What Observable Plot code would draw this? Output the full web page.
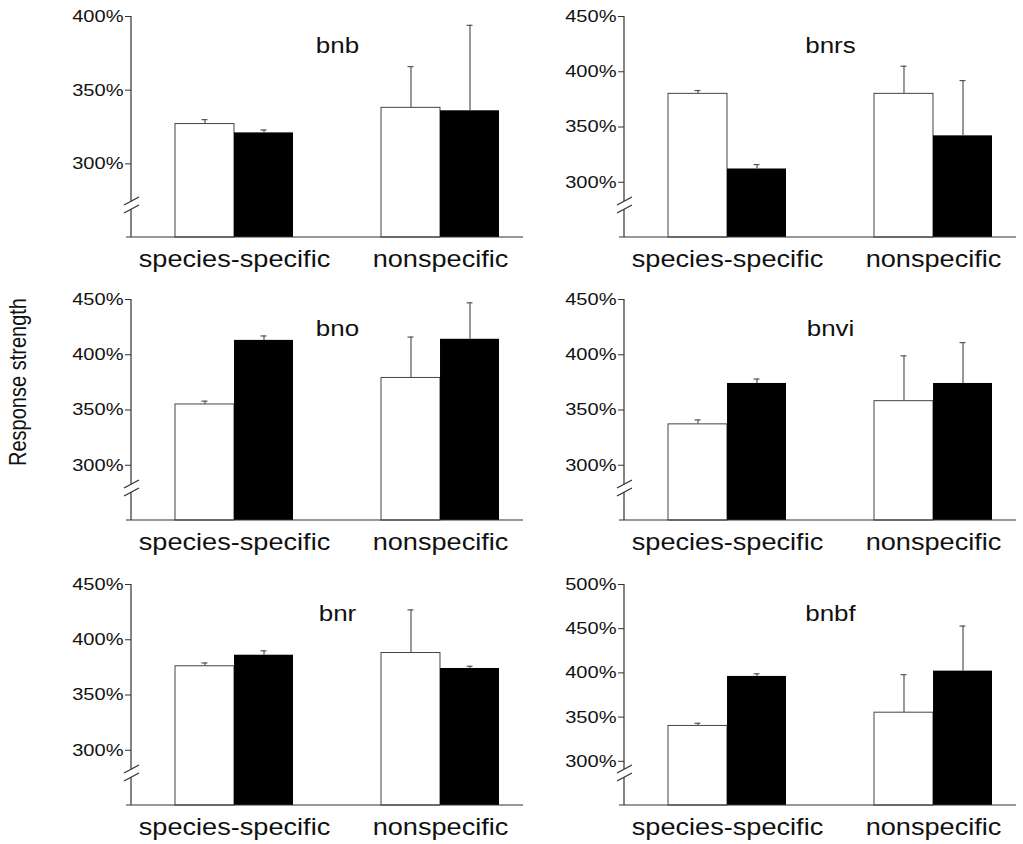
<!DOCTYPE html>
<html>
<head>
<meta charset="utf-8">
<script src="https://cdn.jsdelivr.net/npm/d3@7"></script>
<script src="https://cdn.jsdelivr.net/npm/@observablehq/plot@0.6"></script>
<style>
html, body { margin: 0; padding: 0; background: #fff; overflow: hidden; }
#wrap { position: relative; width: 1023px; height: 844px; overflow: hidden; font-family: "Liberation Sans", Arial, sans-serif; }
.panel { position: absolute; }
.panel svg { max-width: none !important; }
#ylab { position: absolute; left: 18px; top: 382px; transform: translate(-50%, -50%) rotate(-90deg) scale(1, 1.18); font-size: 20px; white-space: nowrap; color: #111; }
</style>
</head>
<body>
<div id="wrap"><div id="ylab">Response strength</div></div>
<script>
// ---- data ----
const panelNames = ["bnb", "bnrs", "bno", "bnvi", "bnr", "bnbf"];
const groups = ["species-specific", "nonspecific"];
const yTop = [400, 450, 450, 450, 450, 500];
const yBottom = 250;
const whiteMean = [[327, 338], [380, 380], [355, 379], [337, 358], [376, 388], [340, 355]];
const whiteErr  = [[330, 366], [383, 405], [358, 416], [341, 399], [379, 427], [343, 398]];
const blackMean = [[321, 336], [312, 342], [413, 414], [374, 374], [386, 374], [396, 402]];
const blackErr  = [[323, 394], [316, 392], [417, 447], [378, 411], [390, 376], [399, 453]];

// ---- layout ----
const colLeft = [7, 500];
const rowTop = [0, 283, 568];
const W = 536, H = 276, mL = 124, mR = 0, mT = 16, mB = 39;
const padInner = 0.427, padOuter = 0.2135;
const bw = d3.scaleBand().domain(groups).range([0, W - mL - mR]).paddingInner(padInner).paddingOuter(padOuter).bandwidth();
const capHalf = 3;
const ink = "#333";
const stretch = 1.18;

function decor(index, scales, values, dims) {
  const x0 = dims.marginLeft;
  const yb = dims.height - dims.marginBottom;
  const g = d3.create("svg:g").attr("stroke", ink).attr("fill", "none").attr("stroke-width", 1.2);
  const c1 = yb - 36, c2 = yb - 28;
  g.append("path").attr("d", `M${x0},${dims.marginTop}V${c1}M${x0},${c2}V${yb}M${x0 - 5},${yb}H${dims.width - dims.marginRight - 20}`);
  for (const c of [c1, c2]) g.append("path").attr("d", `M${x0 - 7},${c + 4}L${x0 + 8},${c - 4}`);
  return g.node();
}

function widenText(svg) {
  svg.querySelectorAll("text").forEach(el => {
    const x = +el.getAttribute("x") || 0;
    const y = +el.getAttribute("y") || 0;
    const t = el.getAttribute("transform") || "";
    el.setAttribute("transform", `${t} translate(${x},${y}) scale(${stretch},1) translate(${-x},${-y})`);
  });
}

const wrap = document.getElementById("wrap");
panelNames.forEach((name, i) => {
  const rows = groups.map((g, j) => ({
    group: g,
    white: whiteMean[i][j], whiteErr: whiteErr[i][j],
    black: blackMean[i][j], blackErr: blackErr[i][j]
  }));
  const chart = Plot.plot({
    width: W, height: H,
    marginLeft: mL, marginRight: mR, marginTop: mT, marginBottom: mB,
    style: { fontFamily: "'Liberation Sans', Arial, sans-serif", color: "#111", background: "transparent" },
    x: { domain: groups, paddingInner: padInner, paddingOuter: padOuter },
    y: { domain: [yBottom, yTop[i]] },
    marks: [
      Plot.barY(rows, { x: "group", y1: yBottom, y2: "white", fill: "white", stroke: "#444", strokeWidth: 1, insetRight: bw / 2 }),
      Plot.barY(rows, { x: "group", y1: yBottom, y2: "black", fill: "black", insetLeft: bw / 2 }),
      Plot.ruleX(rows, { x: "group", y1: "white", y2: "whiteErr", dx: -bw / 4, stroke: "#555", strokeWidth: 1.2 }),
      Plot.ruleX(rows, { x: "group", y1: "black", y2: "blackErr", dx: bw / 4, stroke: "#555", strokeWidth: 1.2 }),
      Plot.tickY(rows, { x: "group", y: "whiteErr", insetLeft: bw / 4 - capHalf, insetRight: 3 * bw / 4 - capHalf, stroke: "#555", strokeWidth: 1.2 }),
      Plot.tickY(rows, { x: "group", y: "blackErr", insetLeft: 3 * bw / 4 - capHalf, insetRight: bw / 4 - capHalf, stroke: "#555", strokeWidth: 1.2 }),
      Plot.axisY({ ticks: d3.range(300, yTop[i] + 1, 50), tickFormat: d => d + "%", tickSize: 6, tickPadding: 2, fontSize: 17, label: null, stroke: ink }),
      Plot.axisX({ tickSize: 0, tickPadding: 13, fontSize: 23, label: null }),
      Plot.text([name], { frameAnchor: "top", dy: 21, fontSize: 22 }),
      decor
    ]
  });
  widenText(chart);
  const div = document.createElement("div");
  div.className = "panel";
  div.style.left = colLeft[i % 2] + "px";
  div.style.top = rowTop[Math.floor(i / 2)] + "px";
  div.appendChild(chart);
  wrap.appendChild(div);
});
</script>
</body>
</html>
